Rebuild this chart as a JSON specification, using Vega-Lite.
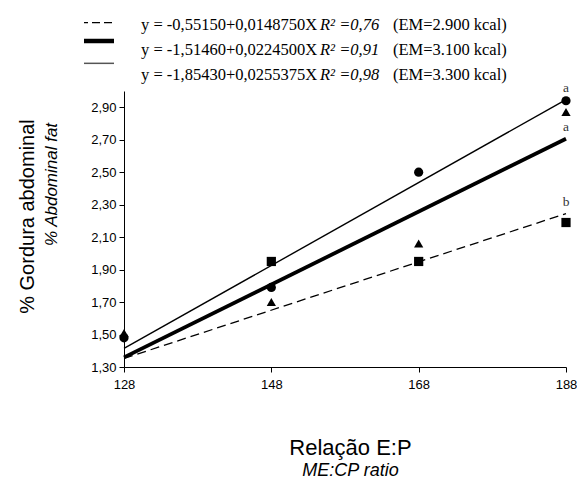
{
  "$schema": "https://vega.github.io/schema/vega-lite/v6.json",
  "background": "white",
  "padding": {"left": 17, "top": 12, "right": 0, "bottom": 0},
  "spacing": 3,
  "bounds": "flush",
  "config": {
    "view": {"stroke": null},
    "font": "Liberation Sans",
    "axis": {
      "grid": false,
      "domainColor": "black",
      "tickColor": "black",
      "labelColor": "black",
      "titleColor": "black",
      "titleFontWeight": "normal",
      "titleFont": "Liberation Sans",
      "labelFont": "Liberation Sans"
    }
  },
  "datasets": {
    "legend": [
      {"series": "2900", "eq": "y = -0,55150+0,0148750X", "r2": "R² =0,76", "em": "(EM=2.900 kcal)"},
      {"series": "3100", "eq": "y = -1,51460+0,0224500X", "r2": "R² =0,91", "em": "(EM=3.100 kcal)"},
      {"series": "3300", "eq": "y = -1,85430+0,0255375X", "r2": "R² =0,98", "em": "(EM=3.300 kcal)"}
    ],
    "lines": [
      {"series": "2900", "x": 128, "y": 1.3525},
      {"series": "2900", "x": 188, "y": 2.245, "letter": "b"},
      {"series": "3100", "x": 128, "y": 1.359},
      {"series": "3100", "x": 188, "y": 2.706, "letter": "a"},
      {"series": "3300", "x": 128, "y": 1.4145},
      {"series": "3300", "x": 188, "y": 2.947, "letter": "a"}
    ],
    "points": [
      {"series": "2900", "x": 148, "y": 1.95},
      {"series": "2900", "x": 168, "y": 1.95},
      {"series": "2900", "x": 188, "y": 2.19},
      {"series": "3100", "x": 128, "y": 1.51},
      {"series": "3100", "x": 148, "y": 1.7},
      {"series": "3100", "x": 168, "y": 2.06},
      {"series": "3100", "x": 188, "y": 2.87},
      {"series": "3300", "x": 128, "y": 1.48},
      {"series": "3300", "x": 148, "y": 1.79},
      {"series": "3300", "x": 168, "y": 2.5},
      {"series": "3300", "x": 188, "y": 2.94}
    ]
  },
  "vconcat": [
    {
      "width": 442,
      "height": 76,
      "data": {"name": "legend"},
      "encoding": {
        "y": {"field": "series", "type": "ordinal", "scale": {"type": "point", "domain": ["2900", "3100", "3300"], "padding": 0.5}, "axis": null}
      },
      "layer": [
        {
          "transform": [{"filter": "datum.series == '2900'"}],
          "mark": {"type": "rule", "yOffset": -2, "color": "black", "strokeWidth": 1.3, "strokeDash": [8, 4], "strokeDashOffset": 4},
          "encoding": {
            "x": {"datum": -40, "type": "quantitative", "scale": {"domain": [0, 442], "nice": false, "zero": false}, "axis": null},
            "x2": {"datum": -10}
          }
        },
        {
          "transform": [{"filter": "datum.series == '3100'"}],
          "mark": {"type": "rule", "yOffset": -9, "color": "black", "strokeWidth": 4.5},
          "encoding": {
            "x": {"datum": -40, "type": "quantitative", "axis": null},
            "x2": {"datum": -10}
          }
        },
        {
          "transform": [{"filter": "datum.series == '3300'"}],
          "mark": {"type": "rule", "yOffset": -12, "color": "#555555", "strokeWidth": 1.5},
          "encoding": {
            "x": {"datum": -40, "type": "quantitative", "axis": null},
            "x2": {"datum": -10}
          }
        },
        {
          "mark": {"type": "text", "align": "left", "baseline": "middle", "font": "Liberation Serif", "fontSize": 16.5, "color": "black"},
          "encoding": {
            "x": {"datum": 17, "type": "quantitative", "axis": null},
            "text": {"field": "eq"}
          }
        },
        {
          "mark": {"type": "text", "align": "left", "baseline": "middle", "font": "Liberation Serif", "fontSize": 16.5, "fontStyle": "italic", "color": "black"},
          "encoding": {
            "x": {"datum": 196, "type": "quantitative", "axis": null},
            "text": {"field": "r2"}
          }
        },
        {
          "mark": {"type": "text", "align": "left", "baseline": "middle", "font": "Liberation Serif", "fontSize": 16.5, "color": "black"},
          "encoding": {
            "x": {"datum": 269, "type": "quantitative", "axis": null},
            "text": {"field": "em"}
          }
        }
      ]
    },
    {
      "width": 442,
      "height": 276,
      "resolve": {"axis": {"x": "independent", "y": "independent"}},
      "layer": [
        {
          "data": {"name": "lines"},
          "transform": [{"filter": "datum.series == '2900'"}],
          "mark": {"type": "line", "color": "black", "strokeWidth": 1.3, "strokeDash": [9, 5]},
          "encoding": {
            "x": {
              "field": "x", "type": "quantitative",
              "scale": {"domain": [128, 188], "nice": false, "zero": false},
              "axis": {
                "values": [128, 148, 168, 188], "format": "d",
                "title": "Relação E:P", "titleFontSize": 22, "titlePadding": 46, "titleX": 226,
                "labelFontSize": 13, "labelPadding": 6, "tickSize": 5,
                "labelFlush": false, "labelOverlap": false, "labelBound": false
              }
            },
            "y": {
              "field": "y", "type": "quantitative",
              "scale": {"domain": [1.3, 3.0], "nice": false, "zero": false},
              "axis": {
                "values": [1.3, 1.5, 1.7, 1.9, 2.1, 2.3, 2.5, 2.7, 2.9],
                "labelExpr": "replace(format(datum.value, '.2f'), '.', ',')",
                "title": "% Abdominal fat", "titleFontStyle": "italic", "titleFontSize": 17, "titlePadding": 30, "titleY": 93,
                "labelFontSize": 13, "labelPadding": 3, "tickSize": 5, "labelOverlap": false, "labelFlush": false
              }
            }
          }
        },
        {
          "data": {"name": "lines"},
          "transform": [{"filter": "datum.series == '3100'"}],
          "mark": {"type": "line", "color": "black", "strokeWidth": 3.8},
          "encoding": {
            "x": {"field": "x", "type": "quantitative", "axis": null},
            "y": {"field": "y", "type": "quantitative", "axis": null}
          }
        },
        {
          "data": {"name": "lines"},
          "transform": [{"filter": "datum.series == '3300'"}],
          "mark": {"type": "line", "color": "black", "strokeWidth": 1.4},
          "encoding": {
            "x": {"field": "x", "type": "quantitative", "axis": null},
            "y": {"field": "y", "type": "quantitative", "axis": null}
          }
        },
        {
          "data": {"name": "points"},
          "mark": {"type": "point", "filled": true, "color": "black", "opacity": 1, "size": 85},
          "encoding": {
            "x": {"field": "x", "type": "quantitative", "axis": null},
            "y": {"field": "y", "type": "quantitative", "axis": null},
            "shape": {"field": "series", "type": "nominal", "scale": {"domain": ["2900", "3100", "3300"], "range": ["square", "triangle-up", "circle"]}, "legend": null}
          }
        },
        {
          "data": {"name": "lines"},
          "transform": [{"filter": "datum.letter"}],
          "mark": {"type": "text", "dy": -12, "font": "Liberation Serif", "fontSize": 13.5, "fill": "#333333"},
          "encoding": {
            "x": {
              "field": "x", "type": "quantitative",
              "axis": {"orient": "bottom", "title": "ME:CP ratio", "titleFontStyle": "italic", "titleFontSize": 18, "titlePadding": 94, "titleX": 226, "labels": false, "ticks": false, "domain": false}
            },
            "y": {
              "field": "y", "type": "quantitative",
              "axis": {"orient": "left", "title": "% Gordura abdominal", "titleFontSize": 20, "titlePadding": 87, "titleY": 125, "labels": false, "ticks": false, "domain": false}
            },
            "text": {"field": "letter"}
          }
        }
      ]
    }
  ]
}
